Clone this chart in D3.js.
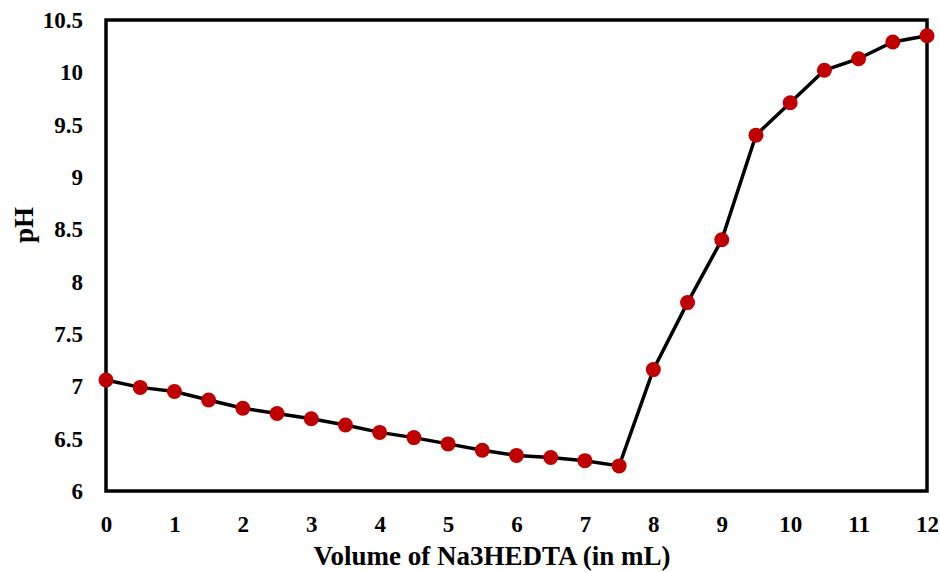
<!DOCTYPE html>
<html>
<head>
<meta charset="utf-8">
<script src="https://cdn.jsdelivr.net/npm/d3@7"></script>
<style>
  body { margin: 0; background: #fff; }
  svg text { font-family: "Liberation Serif", "Times New Roman", serif; font-weight: bold; fill: #000; }
</style>
</head>
<body>
<div id="chart"></div>
<script>
// titration data: volume (mL) vs pH
var volume = [0, 0.5, 1, 1.5, 2, 2.5, 3, 3.5, 4, 4.5, 5, 5.5, 6, 6.5, 7, 7.5, 8, 8.5, 9, 9.5, 10, 10.5, 11, 11.5, 12];
var pH = [7.06, 6.99, 6.95, 6.87, 6.79, 6.74, 6.69, 6.63, 6.56, 6.51, 6.45, 6.39, 6.34, 6.32, 6.29, 6.24,
          7.16, 7.80, 8.40, 9.40, 9.71, 10.02, 10.13, 10.29, 10.35];
var xTicks = [0, 1, 2, 3, 4, 5, 6, 7, 8, 9, 10, 11, 12];
var yTicks = [6, 6.5, 7, 7.5, 8, 8.5, 9, 9.5, 10, 10.5];

var width = 940, height = 572;
var margin = {top: 20, right: 13, bottom: 81, left: 106};

var svg = d3.select("#chart").append("svg")
    .attr("width", width)
    .attr("height", height);

var x = d3.scaleLinear().domain([0, 12]).range([margin.left, width - margin.right]);
var y = d3.scaleLinear().domain([6, 10.5]).range([height - margin.bottom, margin.top]);

// y axis labels
svg.append("g")
    .attr("transform", "translate(" + margin.left + ",0)")
    .call(d3.axisLeft(y).tickValues(yTicks).tickSize(0).tickPadding(23).tickFormat(d3.format("")))
    .call(g => g.select(".domain").remove())
    .selectAll("text")
    .style("font-size", "23px");

// x axis labels
svg.append("g")
    .attr("transform", "translate(0," + (height - margin.bottom) + ")")
    .call(d3.axisBottom(x).tickValues(xTicks).tickSize(0).tickPadding(25))
    .call(g => g.select(".domain").remove())
    .selectAll("text")
    .style("font-size", "23px");

// frame
svg.append("rect")
    .attr("x", margin.left)
    .attr("y", margin.top)
    .attr("width", width - margin.left - margin.right)
    .attr("height", height - margin.top - margin.bottom)
    .attr("fill", "none")
    .attr("stroke", "#000")
    .attr("stroke-width", 3.5);

var pts = volume.map((v, i) => ({v: v, p: pH[i]}));

svg.append("path")
    .datum(pts)
    .attr("fill", "none")
    .attr("stroke", "#000")
    .attr("stroke-width", 3.5)
    .attr("d", d3.line().x(d => x(d.v)).y(d => y(d.p)));

svg.selectAll(".dot")
    .data(pts)
    .enter().append("circle")
    .attr("class", "dot")
    .attr("cx", d => x(d.v))
    .attr("cy", d => y(d.p))
    .attr("r", 7.5)
    .attr("fill", "#c00000");

// axis titles
svg.append("text")
    .attr("x", 492)
    .attr("y", 565)
    .attr("text-anchor", "middle")
    .style("font-size", "27px")
    .text("Volume of Na3HEDTA (in mL)");

svg.append("text")
    .attr("transform", "translate(33,225) rotate(-90)")
    .attr("text-anchor", "middle")
    .style("font-size", "27px")
    .text("pH");
</script>
</body>
</html>
